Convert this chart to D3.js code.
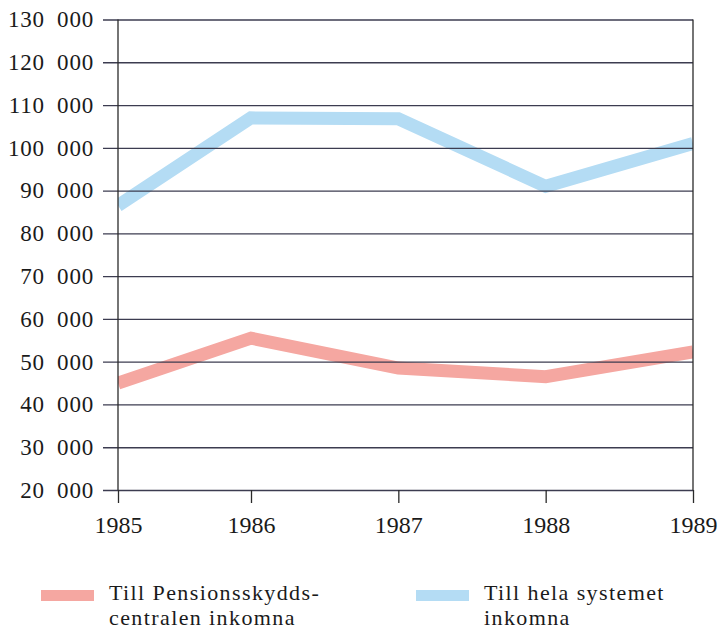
<!DOCTYPE html>
<html>
<head>
<meta charset="utf-8">
<script src="https://cdn.jsdelivr.net/npm/d3@7/dist/d3.min.js"></script>
<style>
    html, body { margin: 0; padding: 0; background: #fff; }
    svg { display: block; }
    text { font-family: 'Liberation Serif', 'Times New Roman', serif; fill: #1a1a1a; }
</style>
</head>
<body>
<svg id="chart" width="719" height="630"></svg>
<script>
(function () {
    'use strict';

    var years = [1985, 1986, 1987, 1988, 1989];
    var pensionValues = [45000, 55500, 48500, 46500, 52300];
    var systemValues = [86500, 107000, 106800, 91000, 101000];
    var yTicks = [20000, 30000, 40000, 50000, 60000, 70000, 80000, 90000,
        100000, 110000, 120000, 130000];
    var seriesNames = [
        ['Till Pensionsskydds-', 'centralen inkomna'],
        ['Till hela systemet', 'inkomna']
    ];
    var seriesColors = ['#f5a7a1', '#b4dcf4'];

    var left = 118,
        right = 693,
        top = 19.5,
        bottom = 490,
        gridColor = '#3c3c50',
        serif = "'Liberation Serif', serif";

    var svg = d3.select('#chart');

    // swedish style grouping, figure space between thousands
    var fmt = d3.formatLocale({
        decimal: ',',
        thousands: '\u2007',
        grouping: [3],
        currency: ['', ' kr']
    }).format(',d');

    // first year interval in the original is a bit narrower than the rest
    var x = d3.scaleLinear()
        .domain([years[0], years[1], years[years.length - 1]])
        .range([left, 251, right]);

    var y = d3.scaleLinear()
        .domain([yTicks[0], yTicks[yTicks.length - 1]])
        .range([bottom, top]);

    svg.append('defs')
        .append('clipPath')
        .attr('id', 'plot-clip')
        .append('rect')
        .attr('x', left)
        .attr('y', 0)
        .attr('width', right - left)
        .attr('height', 630);

    // series lines (under the grid, grid shows through like the print)
    var line = d3.line()
        .x(function (d) { return x(d.year); })
        .y(function (d) { return y(d.value); });

    var series = [pensionValues, systemValues].map(function (values) {
        return years.map(function (yr, i) {
            return { year: yr, value: values[i] };
        });
    });

    svg.append('g')
        .attr('clip-path', 'url(#plot-clip)')
        .selectAll('path.series')
        .data(series)
        .enter()
        .append('path')
        .attr('class', 'series')
        .attr('d', line)
        .attr('fill', 'none')
        .attr('stroke', function (d, i) { return seriesColors[i]; })
        .attr('stroke-width', 13)
        .attr('stroke-linejoin', 'miter')
        .attr('stroke-linecap', 'butt');

    // y axis with gridlines
    var yAxis = svg.append('g')
        .attr('class', 'y-axis')
        .attr('transform', 'translate(' + left + ',0)')
        .call(d3.axisLeft(y)
            .tickValues(yTicks)
            .tickSize(15)
            .tickPadding(9)
            .tickFormat(fmt));

    yAxis.select('.domain').remove();
    yAxis.selectAll('.tick line')
        .attr('x2', -15)
        .attr('x1', right - left)
        .attr('stroke', gridColor)
        .attr('stroke-width', 1.3);
    yAxis.selectAll('.tick text')
        .attr('font-size', 23)
        .attr('letter-spacing', 0.8)
        .attr('fill', '#1a1a1a')
        .style('font-family', serif);

    // x axis
    var xAxis = svg.append('g')
        .attr('class', 'x-axis')
        .attr('transform', 'translate(0,' + bottom + ')')
        .call(d3.axisBottom(x)
            .tickValues(years)
            .tickSize(13)
            .tickPadding(13)
            .tickFormat(d3.format('d')));

    xAxis.select('.domain').remove();
    xAxis.selectAll('.tick line')
        .attr('stroke', '#2a2a2a')
        .attr('stroke-width', 1.3);
    xAxis.selectAll('.tick text')
        .attr('font-size', 24)
        .attr('fill', '#1a1a1a')
        .style('font-family', serif);

    // vertical frame lines at both ends
    svg.selectAll('line.frame')
        .data([years[0], years[years.length - 1]])
        .enter()
        .append('line')
        .attr('class', 'frame')
        .attr('x1', function (d) { return x(d); })
        .attr('x2', function (d) { return x(d); })
        .attr('y1', y(yTicks[yTicks.length - 1]))
        .attr('y2', bottom)
        .attr('stroke', '#2a2a2a')
        .attr('stroke-width', 1.3);

    // legend
    var legend = svg.append('g')
        .attr('class', 'legend')
        .selectAll('g')
        .data(seriesNames)
        .enter()
        .append('g')
        .attr('transform', function (d, i) {
            return 'translate(' + (i === 0 ? 41 : 416) + ',600)';
        });

    legend.append('rect')
        .attr('x', 0)
        .attr('y', -10)
        .attr('width', 53)
        .attr('height', 11)
        .attr('fill', function (d, i) { return seriesColors[i]; });

    legend.selectAll('text')
        .data(function (d) { return d; })
        .enter()
        .append('text')
        .attr('x', 68)
        .attr('y', function (d, i) { return i * 24.5; })
        .attr('font-size', 22)
        .attr('letter-spacing', 1.4)
        .style('font-family', serif)
        .text(function (d) { return d; });
}());
</script>
</body>
</html>
